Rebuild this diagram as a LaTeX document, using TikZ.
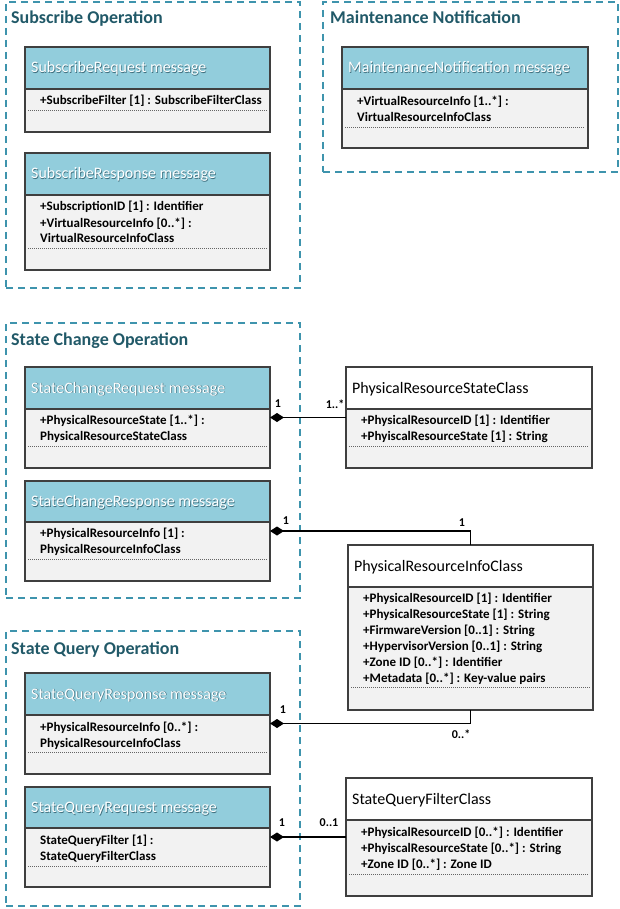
\documentclass[tikz,border=0pt]{standalone}
\usepackage{fontspec}
\setmainfont{Carlito}
\usetikzlibrary{arrows.meta,calc}

\definecolor{grpline}{HTML}{3E94AD}
\definecolor{grptitle}{HTML}{215968}
\definecolor{hdrfill}{HTML}{92CDDC}
\definecolor{bodyfill}{HTML}{F2F2F2}
\definecolor{framec}{HTML}{3F3F3F}
\definecolor{hdrshade}{HTML}{3F6F7E}

% white heading text with a faint offset shade
\newcommand\hdrtext[1]{\rlap{\kern0.7pt\raisebox{-0.7pt}{\color{hdrshade}#1}}\textcolor{white}{#1}}

\tikzset{
  grp/.style={draw=grpline, line width=1.2pt, dash pattern=on 7pt off 5pt,
    inner sep=0pt, outer sep=0pt, anchor=north west},
  grplabel/.style={text=grptitle, font=\fontsize{18}{20}\selectfont\bfseries,
    anchor=base west, inner sep=0pt},
  boxframe/.style={draw=framec, line width=1.3pt, inner sep=0pt, outer sep=0pt},
  sepline/.style={draw=framec, line width=1.1pt},
  dotline/.style={draw=framec!80, line width=0.7pt, dash pattern=on 1pt off 1pt},
  boxtitle/.style={font=\fontsize{16}{18}\selectfont, anchor=base west, inner sep=0pt},
  attr/.style={font=\fontsize{13}{15}\selectfont\bfseries, anchor=base west, inner sep=0pt},
  mult/.style={font=\fontsize{12}{13}\selectfont\bfseries, inner sep=0pt},
  assoc/.style={draw=black, line width=1.2pt, {Diamond[length=14pt,width=9pt]}-},
}

% \umlbox{name}{left}{top}{width}{header height}{height}{dotted offset}{header fill}{title}
\newcommand\umlbox[9]{%
  \fill[bodyfill] (#2,#3) rectangle ++(#4,#6);
  \fill[#8] (#2,#3) rectangle ++(#4,#5);
  \draw[sepline] (#2,#3+#5) -- ++(#4,0);
  \draw[dotline] (#2+3,#3+#7) -- ++(#4-6,0);
  \node[boxframe, minimum width=#4, minimum height=#6, anchor=north west] (#1) at (#2,#3) {};
  \node[boxtitle] (#1-title) at (#2+6,#3+#5/2+5) {#9};
}

\begin{document}
\begin{tikzpicture}[x=1pt,y=-1pt]
\useasboundingbox (0,0) rectangle (620,909);

% operation groups
\node[grp, minimum width=294, minimum height=286] (gsub) at (6,2) {};
\node[grp, minimum width=295, minimum height=170] (gmnt) at (323,2) {};
\node[grp, minimum width=294, minimum height=275] (gsc) at (6,323) {};
\node[grp, minimum width=294, minimum height=275] (gsq) at (6,631) {};
\node[grplabel] (gsub-l) at (11,24) {Subscribe Operation};
\node[grplabel] (gmnt-l) at (330,24) {Maintenance Notification};
\node[grplabel] (gsc-l) at (11,345) {State Change Operation};
\node[grplabel] (gsq-l) at (11,654) {State Query Operation};

% message classes
\umlbox{sreq}{25}{47}{245}{42}{85}{63}{hdrfill}{\hdrtext{SubscribeRequest message}}
\node[attr] (sreq-a1) at (40,105) {+SubscribeFilter [1] : SubscribeFilterClass};

\umlbox{sresp}{25}{153}{245}{42}{117}{95}{hdrfill}{\hdrtext{SubscribeResponse message}}
\node[attr] (sresp-a1) at (40,211) {+SubscriptionID [1] : Identifier};
\node[attr] (sresp-a2) at (40,227) {+VirtualResourceInfo [0..*] :};
\node[attr] (sresp-a3) at (40,243) {VirtualResourceInfoClass};

\umlbox{mnot}{342}{47}{246}{42}{101}{80}{hdrfill}{\hdrtext{MaintenanceNotification message}}
\node[attr] (mnot-a1) at (357,106) {+VirtualResourceInfo [1..*] :};
\node[attr] (mnot-a2) at (357,122) {VirtualResourceInfoClass};

\umlbox{screq}{25}{367}{245}{42}{101}{79}{hdrfill}{\hdrtext{StateChangeRequest message}}
\node[attr] (screq-a1) at (40,424) {+PhysicalResourceState [1..*] :};
\node[attr] (screq-a2) at (40,440) {PhysicalResourceStateClass};

\umlbox{scresp}{25}{481}{245}{41}{100}{78}{hdrfill}{\hdrtext{StateChangeResponse message}}
\node[attr] (scresp-a1) at (40,537) {+PhysicalResourceInfo [1] :};
\node[attr] (scresp-a2) at (40,553) {PhysicalResourceInfoClass};

\umlbox{sqresp}{25}{673}{245}{42}{101}{79}{hdrfill}{\hdrtext{StateQueryResponse message}}
\node[attr] (sqresp-a1) at (40,731) {+PhysicalResourceInfo [0..*] :};
\node[attr] (sqresp-a2) at (40,747) {PhysicalResourceInfoClass};

\umlbox{sqreq}{25}{787}{245}{41}{100}{79}{hdrfill}{\hdrtext{StateQueryRequest message}}
\node[attr] (sqreq-a1) at (40,844) {StateQueryFilter [1] :};
\node[attr] (sqreq-a2) at (40,860) {StateQueryFilterClass};

% data classes
\umlbox{psc}{346}{367}{246}{42}{101}{79}{white}{PhysicalResourceStateClass}
\node[attr] (psc-a1) at (361,424) {+PhysicalResourceID [1] : Identifier};
\node[attr] (psc-a2) at (361,440) {+PhyiscalResourceState [1] : String};

\umlbox{pric}{348}{545}{245}{42}{165}{142}{white}{PhysicalResourceInfoClass}
\node[attr] (pric-a1) at (363,602) {+PhysicalResourceID [1] : Identifier};
\node[attr] (pric-a2) at (363,618) {+PhysicalResourceState [1] : String};
\node[attr] (pric-a3) at (363,634) {+FirmwareVersion [0..1] : String};
\node[attr] (pric-a4) at (363,650) {+HypervisorVersion [0..1] : String};
\node[attr] (pric-a5) at (363,666) {+Zone ID [0..*] : Identifier};
\node[attr] (pric-a6) at (363,682) {+Metadata [0..*] : Key-value pairs};

\umlbox{sqf}{346}{778}{246}{42}{118}{96}{white}{StateQueryFilterClass}
\node[attr] (sqf-a1) at (361,836) {+PhysicalResourceID [0..*] : Identifier};
\node[attr] (sqf-a2) at (361,852) {+PhyiscalResourceState [0..*] : String};
\node[attr] (sqf-a3) at (361,868) {+Zone ID [0..*] : Zone ID};

% composition associations
\draw[assoc] (screq.east) -- (psc.west);
\draw[assoc] (scresp.east) -| (pric.north);
\draw[assoc] (sqresp.east) -| (pric.south);
\draw[assoc] (sqreq.east) -- (sqf.west);

% multiplicities
\node[mult] (m1a) at (278,404) {1};
\node[mult] (m1b) at (335,404) {1..*};
\node[mult] (m2a) at (286,521) {1};
\node[mult] (m2b) at (462,523) {1};
\node[mult] (m3a) at (283,710) {1};
\node[mult] (m3b) at (461,734) {0..*};
\node[mult] (m4a) at (282,823) {1};
\node[mult] (m4b) at (329,823) {0..1};
\end{tikzpicture}
\end{document}
